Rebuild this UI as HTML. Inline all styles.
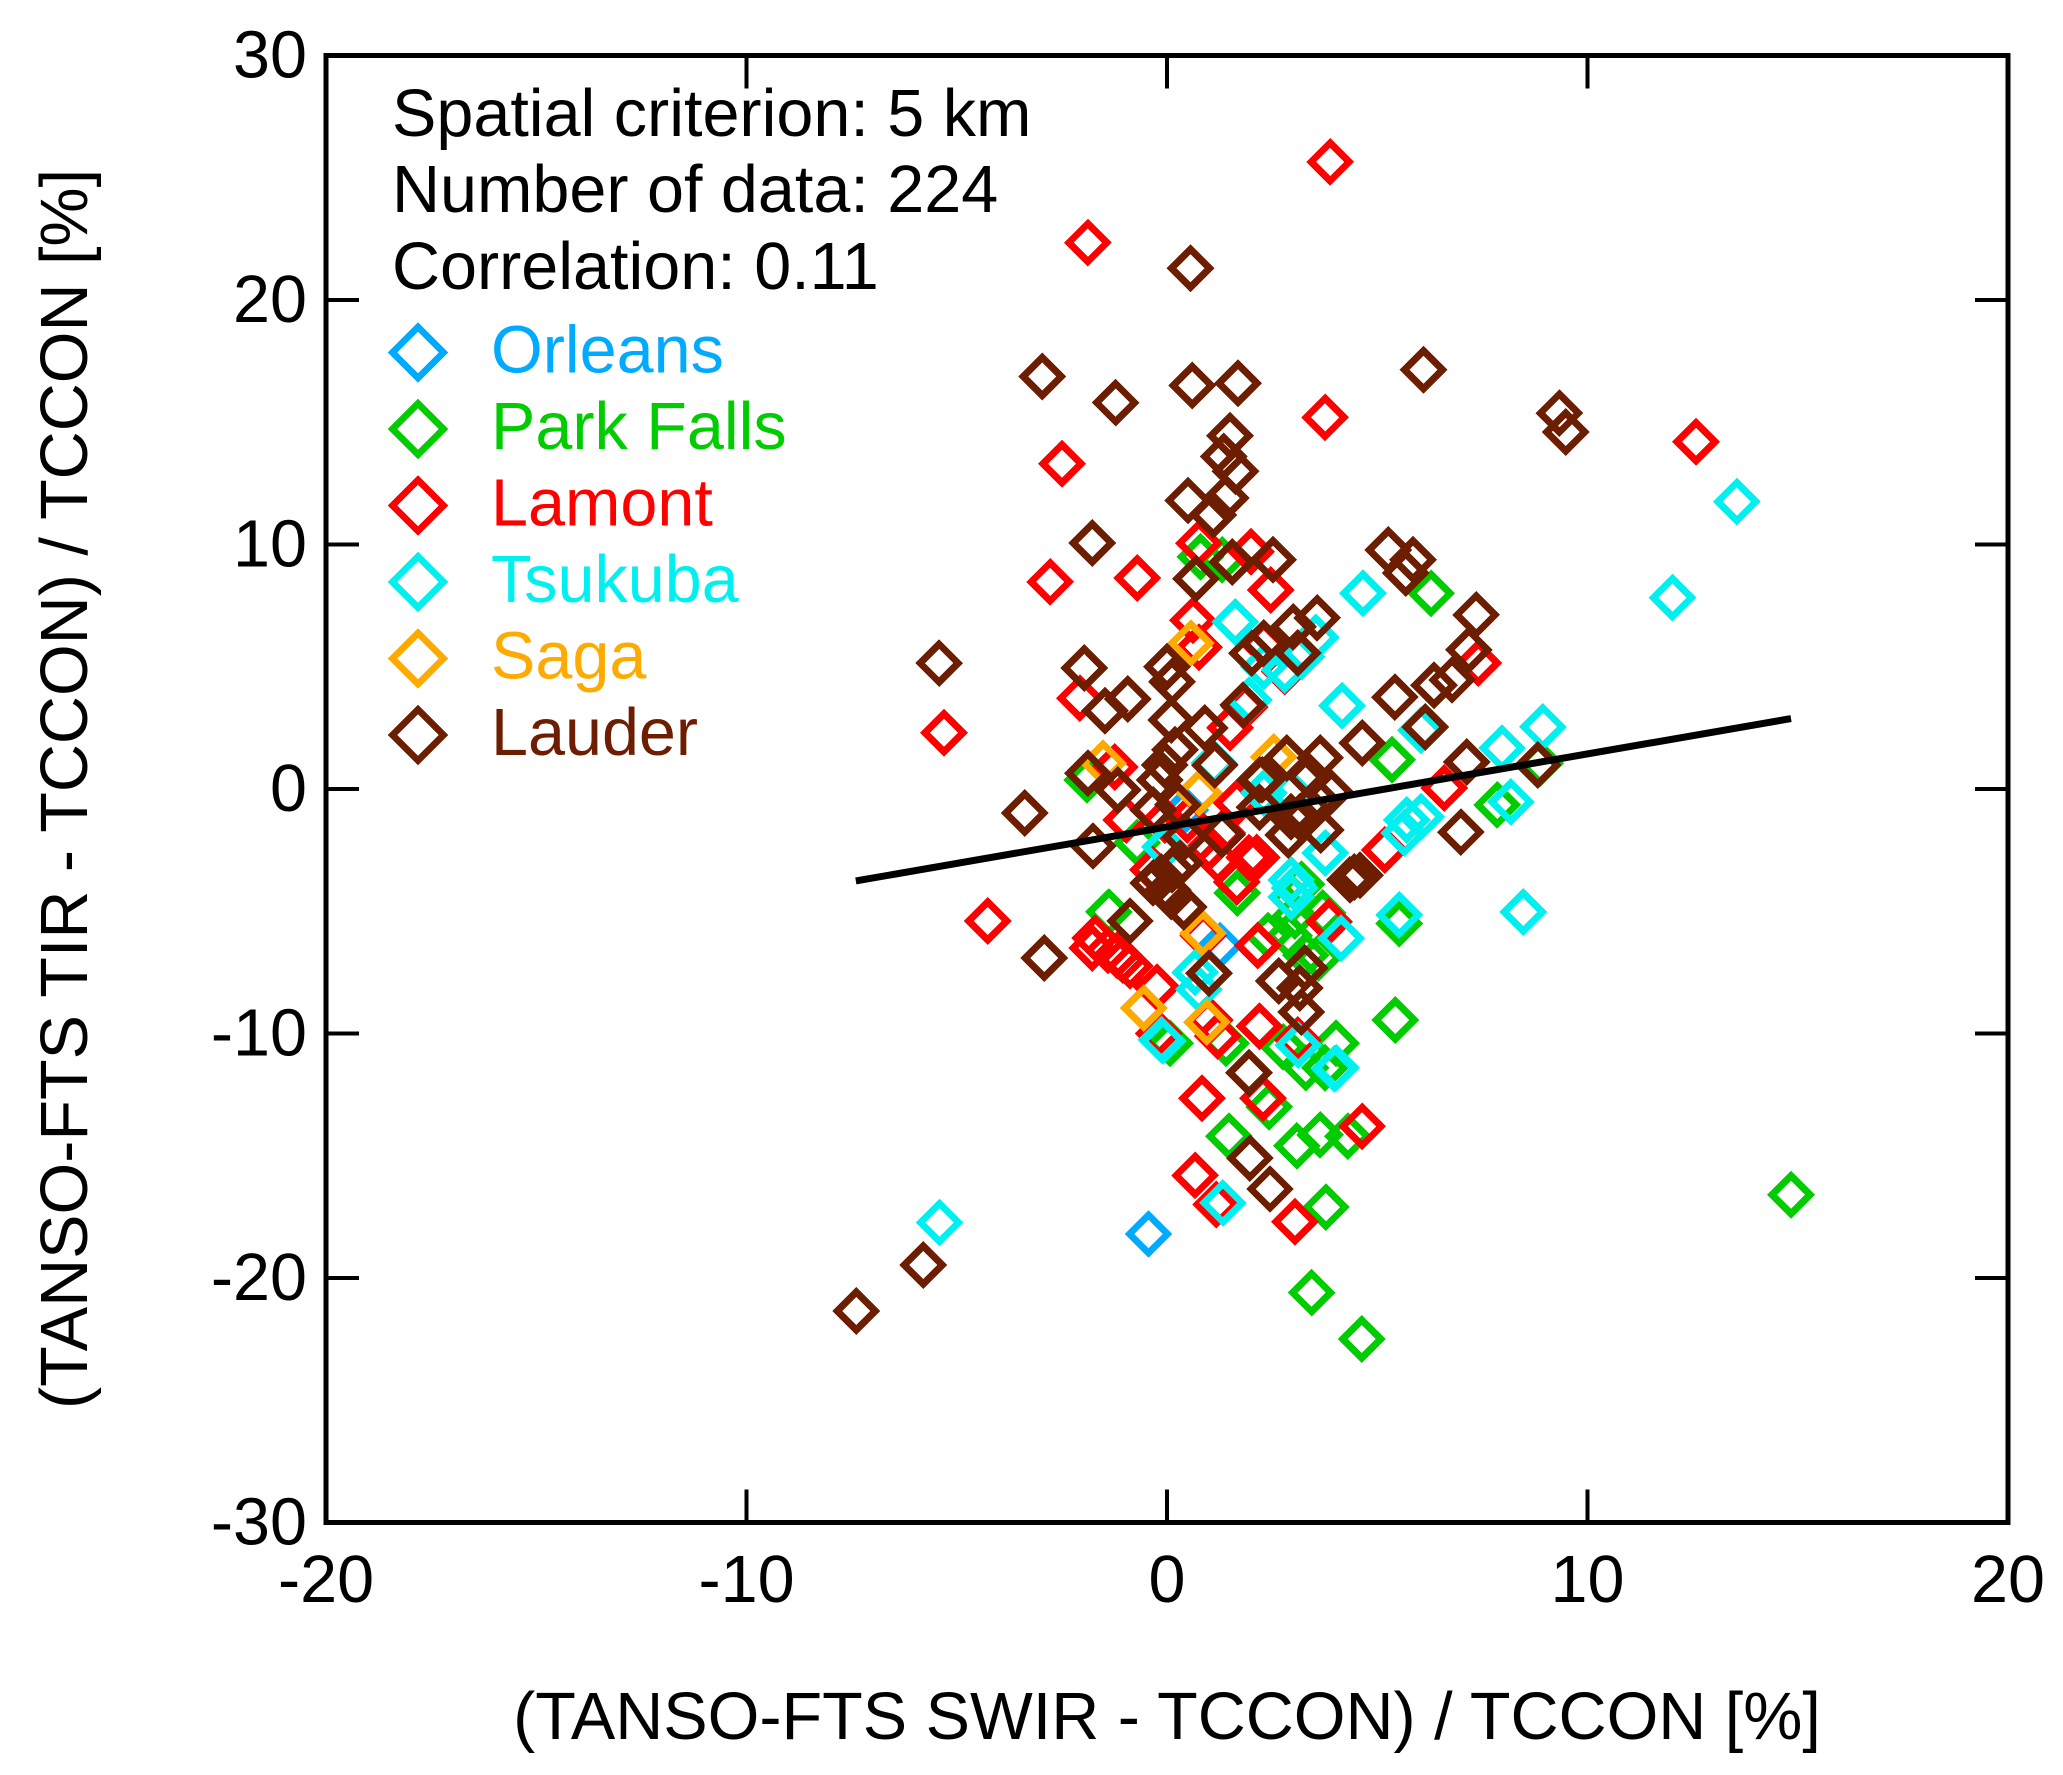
<!DOCTYPE html>
<html lang="en">
<head>
<meta charset="utf-8">
<title>TANSO-FTS TIR vs SWIR scatter</title>
<style>
html,body{margin:0;padding:0;background:#fff;}
svg{display:block;}
text{font-family:"Liberation Sans",Arial,sans-serif;font-size:66.5px;fill:#000;}
</style>
</head>
<body>
<svg id="chart" xmlns="http://www.w3.org/2000/svg" width="2063" height="1775" viewBox="0 0 2063 1775">
  <rect x="0" y="0" width="2063" height="1775" fill="#fff"/>
  <g id="marks"></g>
  <g id="fit"></g>
  <g id="axes"></g>
  <rect x="326" y="55.5" width="1682" height="1467" fill="none" stroke="#000" stroke-width="5"/>
  <text x="392" y="136">Spatial criterion: 5 km</text>
  <text x="392" y="212">Number of data: 224</text>
  <text x="392" y="289">Correlation: 0.11</text>
  <text x="1167" y="1739" text-anchor="middle">(TANSO-FTS SWIR - TCCON) / TCCON [%]</text>
  <text transform="translate(87,789) rotate(-90)" text-anchor="middle">(TANSO-FTS TIR - TCCON) / TCCON [%]</text>
  <g id="legend"></g>
</svg>
<script>
const xTickLabels = [-20, -10, 0, 10, 20];
const yTickLabels = [-30, -20, -10, 0, 10, 20, 30];
const siteNames = ["Orleans", "Park Falls", "Lamont", "Tsukuba", "Saga", "Lauder"];
const siteColors = ["#00aaff", "#00cc00", "#ff0000", "#00f0f0", "#ffaa00", "#6e1e00"];

const fitX = [-7.4, 14.84];
const fitY = [-3.76, 2.88];

const orleansX = [-0.44, 1.26, 0.43];
const orleansY = [-18.2, -6.4, -0.86];

const parkFallsX = [14.84, 4.63, 3.44, 3.78, 4.3, 3.64, 3.09, 1.47, 2.43, 4.02, 3.3, 3.76, 2.76, 0.07, 1.4, 5.43, 5.52, -1.38, 1.67, 3.3, 3.7, 3.04, 3, 2.4, 2.9, 3.6, 0.8, 1.31, 6.28, 5.35, 7.85, 8.87, -1.9, -0.71, 3.2];
const parkFallsY = [-16.6, -22.5, -20.6, -17.1, -14.2, -14.15, -14.6, -14.2, -13, -10.4, -11.4, -11.4, -10.55, -10.4, -10.4, -9.45, -5.5, -5.03, -4.25, -6.8, -5.07, -5.2, -4.5, -6, -6, -6.9, 9.5, 9.37, 8, 1.19, -0.65, 1.06, 0.37, -2.2, -3.9];

const lamontX = [3.88, -1.88, 3.76, 12.58, -2.5, -0.71, -2.78, 0.76, 2, 2.47, 0.62, 0.76, 7.4, -5.3, -2.07, 1.85, 1.5, -1.24, -0.97, 6.59, 5.18, 1.66, 1.21, 1.95, 1.66, -0.33, -0.05, 0.48, 1.31, 1, 2.14, 2.3, 2.8, -4.26, -1.78, -1.71, -1.4, -1.19, -0.88, -0.24, -1.05, 0.86, 2.16, -0.1, -0.2, 1.02, 1.21, 2.2, 0.83, 2.28, 4.64, 0.67, 1.17, 3.04, 3.85, 3.11];
const lamontY = [25.65, 22.35, 15.2, 14.2, 13.3, 8.63, 8.47, 10.06, 9.7, 8.14, 6.9, 5.8, 5.15, 2.3, 3.72, 3.35, 2.5, 0.9, -1.27, 0.04, -2.5, -0.57, -2.9, -2.8, -3.8, -3.3, -1.27, -1.27, -1.8, -2.4, -2.8, 5.9, 4.8, -5.4, -6.5, -6.1, -6.6, -6.8, -7.24, -8.1, -7, -6, -6.4, -10.3, -10, -9.45, -10.1, -9.7, -12.65, -12.65, -13.8, -15.8, -17, -17.7, -5.43, -10.27];

const tsukubaX = [13.55, 12.02, 4.66, 1.62, 3.54, 4.16, 8.94, 7.97, 6.04, 8.18, 5.64, 6.04, 5.7, 3.76, 2.95, 3.04, 1.95, 2.8, 2.3, 3.2, 1.12, -0.05, 2.3, 2.95, 5.52, 4.14, 0.67, 0.76, -0.1, 3.12, 4.02, 1.33, 2.95, 8.47, -5.41, 3.98, -0.13];
const tsukubaY = [11.75, 7.83, 8, 6.83, 6.2, 3.4, 2.54, 1.67, 2.41, -0.53, -1.8, -1.14, -1.27, -2.62, -3.72, -4.05, 3.64, 4.87, 5, 5.4, 1.06, -2.37, -0.16, -0.16, -5.15, -6.1, -7.5, -8.2, -10.3, -10.47, -11.41, -16.93, -4.42, -5.03, -17.73, -11.44, -10.25];

const sagaX = [0.57, 0, -1.52, 0.76, 2.54, 0.86, -0.55, 0.95];
const sagaY = [5.97, 5, 1.06, -0.16, 1.31, -5.9, -8.96, -9.53];

const lauderX = [0.56, -2.97, -1.22, 0.6, 1.69, 6.1, 9.33, 9.48, 1.5, 1.35, 1.63, 1.4, 0.5, 1.1, -1.78, 1.55, 0.69, 2.52, 5.26, 5.85, 5.68, 7.35, 7.18, 6.78, 6.35, 5.42, 6.14, 4.64, 3.57, 3, 2.3, 2.02, 3.11, -5.42, -1.97, -0.93, -1.47, 0, 0.12, 0.1, 0.9, 0.19, 1.14, -0.05, -1.88, -3.38, -1.17, -1.76, -0.33, -0.17, 0.26, 1.31, 0.43, 2.2, 2.2, 1.81, 2.85, 3.64, 3.4, 2.26, 3.88, 7.13, 8.82, 6.99, 3.21, 3.66, 2.88, 3.16, 3.57, 2.95, 4.45, 4.59, 4.35, -0.14, 0.12, -0.33, 0.02, 0.31, 0.4, 0.1, -0.88, -2.92, 1, 2.66, 3.28, 3.16, 3.19, 1.95, 1.97, 2.45, -5.8, -7.39];
const lauderY = [21.3, 16.87, 15.8, 16.5, 16.6, 17.14, 15.37, 14.6, 14.45, 13.6, 13, 11.9, 11.8, 11.2, 10.06, 9.28, 8.6, 9.37, 9.77, 9.37, 8.83, 7.12, 5.69, 4.46, 4.25, 3.76, 2.54, 1.88, 7, 6.63, 5.97, 5.56, 5.56, 5.15, 4.95, 3.68, 3.2, 5, 4.38, 2.82, 2.5, 1.6, 0.98, 0.98, 0.65, -0.98, -0.04, -2.33, -0.86, 0.37, -0.65, -1.88, -1.96, 0.37, -0.74, 3.43, 1.27, 1.27, 0.49, 0.37, -0.12, 1.1, 0.98, -1.76, -1.27, -1.68, -1.88, -1.14, -0.45, -1.14, -3.6, -3.52, -3.72, -3.6, -3.31, -3.84, -4.13, -3.03, -4.83, -4.4, -5.4, -6.91, -7.53, -7.85, -7.32, -8.14, -9.12, -11.6, -15.1, -16.36, -19.47, -21.35];

const seriesX = [orleansX, parkFallsX, lamontX, tsukubaX, sagaX, lauderX];
const seriesY = [orleansY, parkFallsY, lamontY, tsukubaY, sagaY, lauderY];

const NS = "http://www.w3.org/2000/svg";
const plot = { left: 326, right: 2008, top: 55.5, bottom: 1522.5 };
const xDomain = [-20, 20];
const yDomain = [-30, 30];

function xScale(v) {
  return plot.left + (v - xDomain[0]) / (xDomain[1] - xDomain[0]) * (plot.right - plot.left);
}
function yScale(v) {
  return plot.bottom - (v - yDomain[0]) / (yDomain[1] - yDomain[0]) * (plot.bottom - plot.top);
}
function diamondPoints(cx, cy, r) {
  return [cx, cy - r, cx + r, cy, cx, cy + r, cx - r, cy].join(",");
}
function slug(s) {
  return s.toLowerCase().replace(/\s+/g, "-");
}

const marks = document.getElementById("marks");
const fit = document.getElementById("fit");
const axes = document.getElementById("axes");
const legend = document.getElementById("legend");

seriesX.forEach(function (xs, s) {
  const group = document.createElementNS(NS, "g");
  
  
  xs.forEach(function (xv, i) {
    const p = document.createElementNS(NS, "polygon");
    p.setAttribute("points", diamondPoints(xScale(xv), yScale(seriesY[s][i]), 19));
    p.setAttribute("fill", "none");
    p.setAttribute("stroke", siteColors[s]);
    p.setAttribute("stroke-width", "7");
    p.setAttribute("stroke-linejoin", "miter");
    p.setAttribute("shape-rendering", "crispEdges");
    
    
    group.appendChild(p);
  });
  marks.appendChild(group);
});

const fitLine = document.createElementNS(NS, "line");
fitLine.setAttribute("x1", xScale(fitX[0]));
fitLine.setAttribute("y1", yScale(fitY[0]));
fitLine.setAttribute("x2", xScale(fitX[1]));
fitLine.setAttribute("y2", yScale(fitY[1]));
fitLine.setAttribute("stroke", "#000");
fitLine.setAttribute("stroke-width", "7");


fit.appendChild(fitLine);

function addTick(x1, y1, x2, y2, name) {
  const t = document.createElementNS(NS, "line");
  t.setAttribute("x1", x1);
  t.setAttribute("y1", y1);
  t.setAttribute("x2", x2);
  t.setAttribute("y2", y2);
  t.setAttribute("stroke", "#000");
  t.setAttribute("stroke-width", "4");
  
  
  axes.appendChild(t);
}
const tickLen = 33;

xTickLabels.forEach(function (v) {
  const x = xScale(v);
  if (v !== xDomain[0] && v !== xDomain[1]) {
    addTick(x, plot.bottom, x, plot.bottom - tickLen, 'x-tick-bottom');
    addTick(x, plot.top, x, plot.top + tickLen, 'x-tick-top');
  }
  const label = document.createElementNS(NS, "text");
  label.setAttribute("x", x);
  label.setAttribute("y", 1602);
  label.setAttribute("text-anchor", "middle");
  
  
  label.textContent = String(v);
  axes.appendChild(label);
});

yTickLabels.forEach(function (v) {
  const y = yScale(v);
  if (v !== yDomain[0] && v !== yDomain[1]) {
    addTick(plot.left, y, plot.left + tickLen, y, 'y-tick-left');
    addTick(plot.right, y, plot.right - tickLen, y, 'y-tick-right');
  }
  const label = document.createElementNS(NS, "text");
  label.setAttribute("x", 307);
  label.setAttribute("y", y + 22);
  label.setAttribute("text-anchor", "end");
  
  
  label.textContent = String(v);
  axes.appendChild(label);
});

siteNames.forEach(function (name, s) {
  const cy = 352.5 + s * 76.5;
  const m = document.createElementNS(NS, "polygon");
  m.setAttribute("points", diamondPoints(418, cy, 25.5));
  m.setAttribute("fill", "none");
  m.setAttribute("stroke", siteColors[s]);
  m.setAttribute("stroke-width", "7");
  m.setAttribute("shape-rendering", "crispEdges");
  
  
  legend.appendChild(m);
  const t = document.createElementNS(NS, "text");
  t.setAttribute("x", 491);
  t.setAttribute("y", cy + 20);
  t.setAttribute("style", "fill:" + siteColors[s]);
  
  
  t.textContent = name;
  legend.appendChild(t);
});
</script>
</body>
</html>
